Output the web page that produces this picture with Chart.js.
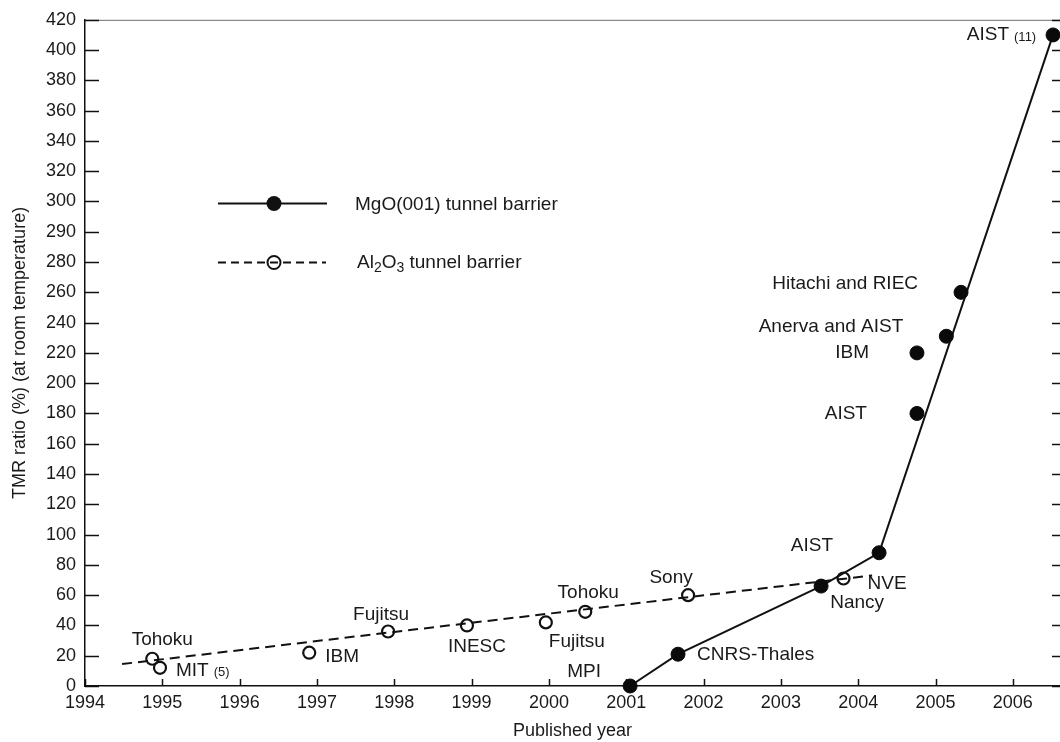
<!DOCTYPE html>
<html>
<head>
<meta charset="utf-8">
<title>TMR ratio by published year</title>
<script src="https://cdn.jsdelivr.net/npm/chart.js@4.4.1/dist/chart.umd.min.js"></script>
<style>
  html, body { margin: 0; padding: 0; background: #ffffff; }
  canvas { display: block; }
</style>
</head>
<body>
<canvas id="tmr" width="1060" height="742"></canvas>
<script>
// ---- data -----------------------------------------------------------
// MgO(001) barrier results (filled markers)
const mgoYears  = [2001.05, 2001.67, 2003.52, 2004.27, 2004.76, 2004.76, 2005.14, 2005.33, 2006.52];
const mgoTmr    = [0, 21, 66, 88, 180, 220, 231, 260, 410];
const mgoGroups = ['MPI', 'CNRS-Thales', 'Nancy', 'AIST', 'AIST', 'IBM', 'Anerva and AIST', 'Hitachi and RIEC', 'AIST'];
const mgoRefs   = ['', '', '', '', '', '', '', '', '(11)'];

// trend line drawn through the MgO results
const mgoTrendYears = [2001.05, 2001.67, 2003.52, 2004.27, 2006.52];
const mgoTrendTmr   = [0, 21, 66, 88, 410];

// Al2O3 barrier results (open markers)
const alYears  = [1994.87, 1994.97, 1996.90, 1997.92, 1998.94, 1999.96, 2000.47, 2001.80, 2003.81];
const alTmr    = [18, 12, 22, 36, 40, 42, 49, 60, 71];
const alGroups = ['Tohoku', 'MIT', 'IBM', 'Fujitsu', 'INESC', 'Fujitsu', 'Tohoku', 'Sony', 'NVE'];
const alRefs   = ['', '(5)', '', '', '', '', '', '', ''];

// dashed trend line for Al2O3
const alTrendYears = [1994.48, 2004.18];
const alTrendTmr   = [14.5, 73];

// axis ticks
const xTickYears  = [1994, 1995, 1996, 1997, 1998, 1999, 2000, 2001, 2002, 2003, 2004, 2005, 2006];
const yTickValues = [0, 20, 40, 60, 80, 100, 120, 140, 160, 180, 200, 220, 240, 260, 280,
                     290, 300, 320, 340, 360, 380, 400, 420];

// ---- value axis whose ticks are evenly spaced ---------------------
class SteppedTickScale extends Chart.LinearScale {
  determineDataLimits() {
    this.min = yTickValues[0];
    this.max = yTickValues[yTickValues.length - 1];
  }
  buildTicks() {
    return yTickValues.map(value => ({ value }));
  }
  valueToStep(value) {
    const t = yTickValues;
    if (value <= t[0]) return (value - t[0]) / (t[1] - t[0]);
    for (let i = 1; i < t.length; i++) {
      if (value <= t[i]) return i - 1 + (value - t[i - 1]) / (t[i] - t[i - 1]);
    }
    const n = t.length - 1;
    return n + (value - t[n]) / (t[n] - t[n - 1]);
  }
  getPixelForValue(value) {
    return this.getPixelForDecimal(this.valueToStep(value) / (yTickValues.length - 1));
  }
  getValueForPixel(pixel) {
    const step = this.getDecimalForPixel(pixel) * (yTickValues.length - 1);
    const i = Math.min(Math.max(Math.floor(step), 0), yTickValues.length - 2);
    return yTickValues[i] + (step - i) * (yTickValues[i + 1] - yTickValues[i]);
  }
}
SteppedTickScale.id = 'steppedTicks';
SteppedTickScale.defaults = {};
Chart.register(SteppedTickScale);

// ---- styling --------------------------------------------------------
const FONT = '"Liberation Sans", Arial, Helvetica, sans-serif';
const INK = '#1a1a1a';

const toPoints = (xs, ys) => xs.map((x, i) => ({ x, y: ys[i] }));

// where each group name sits relative to its marker
const mgoLabelPlacement = [
  { dx: -46, dy: -14, align: 'center' },  // MPI
  { dx: 19,  dy: 1,   align: 'left' },    // CNRS-Thales
  { dx: 36,  dy: 17,  align: 'center' },  // Nancy
  { dx: -46, dy: -7,  align: 'right' },   // AIST
  { dx: -50, dy: 0,   align: 'right' },   // AIST
  { dx: -48, dy: 0,   align: 'right' },   // IBM
  { dx: -43, dy: -9,  align: 'right' },   // Anerva and AIST
  { dx: -43, dy: -9,  align: 'right' },   // Hitachi and RIEC
  { dx: -44, dy: 0,   align: 'right' }    // AIST (11)
];
const alLabelPlacement = [
  { dx: 10,  dy: -19, align: 'center' },  // Tohoku
  { dx: 16,  dy: 3,   align: 'left' },    // MIT (5)
  { dx: 16,  dy: 4,   align: 'left' },    // IBM
  { dx: -7,  dy: -17, align: 'center' },  // Fujitsu
  { dx: 10,  dy: 21,  align: 'center' },  // INESC
  { dx: 31,  dy: 19,  align: 'center' },  // Fujitsu
  { dx: 3,   dy: -19, align: 'center' },  // Tohoku
  { dx: -17, dy: -17, align: 'center' },  // Sony
  { dx: 24,  dy: 5,   align: 'left' }     // NVE
];

// inward tick marks, top frame line
const frameTicks = {
  id: 'frameTicks',
  beforeDatasetsDraw(chart) {
    const { ctx, chartArea: a, scales: { x, y } } = chart;
    ctx.save();
    ctx.strokeStyle = '#8a8a8a';
    ctx.lineWidth = 1.3;
    ctx.beginPath();
    ctx.moveTo(a.left, a.top + 0.5);
    ctx.lineTo(a.right, a.top + 0.5);
    ctx.stroke();

    ctx.strokeStyle = '#111';
    ctx.lineWidth = 1.5;
    ctx.beginPath();
    y.ticks.forEach((t, i) => {
      const py = Math.round(y.getPixelForTick(i)) + 0.5;
      ctx.moveTo(a.left, py);
      ctx.lineTo(a.left + 14, py);
      ctx.moveTo(a.right, py);
      ctx.lineTo(a.right - 8, py);
    });
    x.ticks.forEach((t, i) => {
      const px = Math.round(x.getPixelForTick(i)) + 0.5;
      ctx.moveTo(px, a.bottom);
      ctx.lineTo(px, a.bottom - 7);
    });
    ctx.stroke();
    ctx.restore();
  }
};

// group names beside the markers
function drawGroupNames(ctx, meta, names, refs, placement) {
  meta.data.forEach((pt, i) => {
    const p = placement[i];
    const x = pt.x + p.dx;
    const y = pt.y + p.dy;
    ctx.font = '19px ' + FONT;
    ctx.textAlign = p.align;
    ctx.textBaseline = 'middle';
    ctx.fillText(names[i], x, y);
    if (refs[i]) {
      const w = ctx.measureText(names[i]).width;
      const right = p.align === 'left' ? x + w : p.align === 'center' ? x + w / 2 : x;
      ctx.font = '13px ' + FONT;
      ctx.textAlign = 'left';
      ctx.fillText(refs[i], right + 5, y + 2);
    }
  });
}

const groupNames = {
  id: 'groupNames',
  afterDatasetsDraw(chart) {
    const { ctx } = chart;
    ctx.save();
    ctx.fillStyle = INK;
    drawGroupNames(ctx, chart.getDatasetMeta(2), mgoGroups, mgoRefs, mgoLabelPlacement);
    drawGroupNames(ctx, chart.getDatasetMeta(3), alGroups, alRefs, alLabelPlacement);
    ctx.restore();
  }
};

// key with line samples and markers
const barrierKey = {
  id: 'barrierKey',
  afterDraw(chart) {
    const { ctx } = chart;
    ctx.save();
    ctx.strokeStyle = '#111';
    ctx.fillStyle = '#111';

    // MgO sample
    ctx.lineWidth = 2.2;
    ctx.setLineDash([]);
    ctx.beginPath();
    ctx.moveTo(218, 203.5);
    ctx.lineTo(327, 203.5);
    ctx.stroke();
    ctx.beginPath();
    ctx.arc(274, 203.5, 7.5, 0, Math.PI * 2);
    ctx.fill();

    // Al2O3 sample
    ctx.lineWidth = 2;
    ctx.setLineDash([8, 5]);
    ctx.beginPath();
    ctx.moveTo(218, 262.5);
    ctx.lineTo(326, 262.5);
    ctx.stroke();
    ctx.setLineDash([]);
    ctx.beginPath();
    ctx.arc(274, 262.5, 6.5, 0, Math.PI * 2);
    ctx.stroke();

    ctx.fillStyle = INK;
    ctx.textBaseline = 'middle';
    ctx.textAlign = 'left';
    ctx.font = '19px ' + FONT;
    ctx.fillText('MgO(001) tunnel barrier', 355, 205);

    const runs = [
      { t: 'Al', sub: false }, { t: '2', sub: true },
      { t: 'O', sub: false }, { t: '3', sub: true },
      { t: ' tunnel barrier', sub: false }
    ];
    let x = 357;
    runs.forEach(r => {
      ctx.font = (r.sub ? '14px ' : '19px ') + FONT;
      ctx.fillText(r.t, x, r.sub ? 268 : 263);
      x += ctx.measureText(r.t).width;
    });
    ctx.restore();
  }
};

// ---- chart ------------------------------------------------------------
new Chart(document.getElementById('tmr'), {
  type: 'scatter',
  data: {
    datasets: [
      {
        label: 'MgO(001) trend',
        data: toPoints(mgoTrendYears, mgoTrendTmr),
        showLine: true,
        borderColor: '#111',
        borderWidth: 2,
        pointRadius: 0,
        tension: 0,
        clip: false,
        order: 2
      },
      {
        label: 'Al2O3 trend',
        data: toPoints(alTrendYears, alTrendTmr),
        showLine: true,
        borderColor: '#111',
        borderWidth: 2,
        borderDash: [10, 6],
        pointRadius: 0,
        clip: false,
        order: 2
      },
      {
        label: 'MgO(001) tunnel barrier',
        data: toPoints(mgoYears, mgoTmr),
        showLine: false,
        pointStyle: 'circle',
        pointRadius: 7,
        pointBackgroundColor: '#0a0a0a',
        pointBorderColor: '#0a0a0a',
        pointBorderWidth: 1,
        clip: false,
        order: 1
      },
      {
        label: 'Al2O3 tunnel barrier',
        data: toPoints(alYears, alTmr),
        showLine: false,
        pointStyle: 'circle',
        pointRadius: 6,
        pointBackgroundColor: 'rgba(255,255,255,0)',
        pointBorderColor: '#111',
        pointBorderWidth: 2.2,
        clip: false,
        order: 1
      }
    ]
  },
  options: {
    responsive: false,
    devicePixelRatio: 1,
    animation: false,
    events: [],
    layout: { autoPadding: false, padding: { top: 18, right: 0, bottom: 0, left: 0 } },
    plugins: {
      legend: { display: false },
      tooltip: { enabled: false },
      title: { display: false }
    },
    scales: {
      x: {
        type: 'linear',
        min: 1994,
        max: 2006.61,
        afterBuildTicks(scale) {
          scale.ticks = xTickYears.map(value => ({ value }));
        },
        afterFit(scale) { scale.height = 56; },
        grid: { display: false, drawTicks: false },
        border: { display: true, color: '#111', width: 1.5 },
        ticks: {
          padding: 6,
          maxRotation: 0,
          autoSkip: false,
          color: INK,
          font: { family: FONT, size: 18 },
          callback: v => String(v)
        },
        title: {
          display: true,
          text: 'Published year',
          color: INK,
          font: { family: FONT, size: 18 },
          padding: { top: 0, bottom: 0 }
        }
      },
      y: {
        type: 'steppedTicks',
        afterFit(scale) { scale.width = 85; },
        grid: { display: false, drawTicks: false },
        border: { display: true, color: '#111', width: 1.5 },
        ticks: {
          padding: 9,
          autoSkip: false,
          color: INK,
          font: { family: FONT, size: 18 },
          callback: v => String(v)
        },
        title: {
          display: true,
          text: 'TMR ratio (%) (at room temperature)',
          color: INK,
          font: { family: FONT, size: 18 },
          padding: { top: 9, bottom: 0 }
        }
      }
    }
  },
  plugins: [frameTicks, groupNames, barrierKey]
});
</script>
</body>
</html>
